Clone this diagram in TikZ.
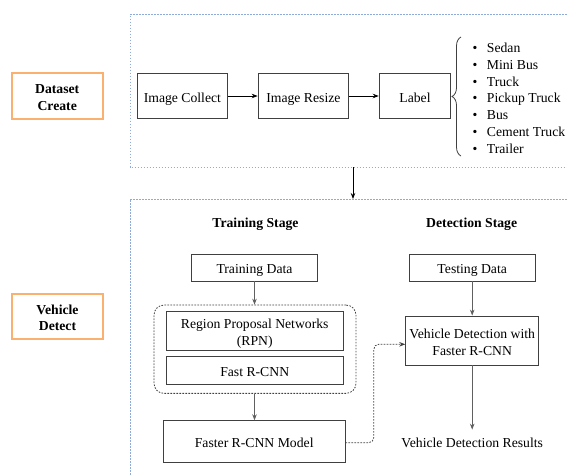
\documentclass[tikz,border=0pt]{standalone}
\usepackage{fontspec}
\setmainfont{Liberation Serif}
\usetikzlibrary{arrows.meta,decorations.pathreplacing,calc}

\definecolor{stageorange}{RGB}{250,176,110}
\definecolor{regionblue}{RGB}{143,170,220}
\definecolor{boxgray}{RGB}{64,64,64}
\definecolor{arrowgray}{RGB}{96,96,96}

\tikzset{
  stagebox/.style={draw=stageorange, line width=2.2pt, align=center,
    font=\fontsize{13.7}{16.7}\selectfont\bfseries,
    minimum width=91pt, minimum height=45.5pt, inner sep=0pt,
    text height=28.7pt, text depth=0pt},
  box/.style={draw=boxgray, line width=0.8pt, align=center, inner sep=0pt},
  oneline/.style={text height=12.4pt, text depth=0pt},
  twoline/.style={text height=29.7pt, text depth=0pt},
  region/.style={draw=regionblue, line width=0.8pt, dash pattern=on 1.6pt off 1.4pt},
  heading/.style={font=\fontsize{13.7}{16.7}\selectfont\bfseries, anchor=base},
  arr/.style={-{Stealth[length=6pt,width=4.5pt]}, line width=0.8pt},
  grayarr/.style={arr, draw=arrowgray},
  dotarr/.style={-{Stealth[length=6pt,width=4.5pt]}, line width=0.8pt, draw=boxgray,
    dash pattern=on 1.6pt off 1.4pt, rounded corners=5pt},
}

\begin{document}
\begin{tikzpicture}[x=1pt,y=-1pt,font=\fontsize{13.7}{16.7}\selectfont]
\useasboundingbox (0,0) rectangle (567,475);

% section frames (open to the right / bottom)
\draw[region] (567,14.7) -- (130,14.7) -- (130,167) -- (567,167);
\draw[region] (567,199) -- (130,199) -- (130,475);

% section labels
\node[stagebox] (ds) at (57.2,96) {Dataset\\Create};
\node[stagebox] (vd) at (57.5,316.5) {Vehicle\\Detect};

% dataset creation pipeline
\node[box, oneline, minimum width=90.7pt, minimum height=45.7pt] (ic) at (182.4,96) {Image Collect};
\node[box, oneline, minimum width=90.7pt, minimum height=45.7pt] (ir) at (303.4,96) {Image Resize};
\node[box, oneline, minimum width=71.7pt, minimum height=45.7pt] (lab) at (415,96) {Label};
\draw[arr] (ic) -- (ir);
\draw[arr] (ir) -- (lab);

% vehicle classes
\draw[boxgray, line width=0.8pt, decorate, decoration={brace, amplitude=9pt}]
  (461,156) -- (461,37);
\node[anchor=west, align=left, inner sep=0pt] (classes) at (472.5,98.3) {%
  \makebox[14.2pt][l]{\textbullet}Sedan\\
  \makebox[14.2pt][l]{\textbullet}Mini Bus\\
  \makebox[14.2pt][l]{\textbullet}Truck\\
  \makebox[14.2pt][l]{\textbullet}Pickup Truck\\
  \makebox[14.2pt][l]{\textbullet}Bus\\
  \makebox[14.2pt][l]{\textbullet}Cement Truck\\
  \makebox[14.2pt][l]{\textbullet}Trailer};

% link between the two sections
\coordinate (topout) at (353,167);
\coordinate (botin) at (353,199);
\draw[arr] (topout) -- (botin);

% stage headings
\node[heading] (trh) at (255.5,227.8) {Training Stage};
\node[heading] (deh) at (471.7,227.8) {Detection Stage};

% training stage
\node[box, oneline, minimum width=125.6pt, minimum height=27pt] (td) at (254.5,267.5) {Training Data};
\node[draw=boxgray, line width=0.8pt, dash pattern=on 1.6pt off 1.4pt, rounded corners=10pt,
  minimum width=202pt, minimum height=88.3pt, inner sep=0pt] (cont) at (255,349.2) {};
\node[box, twoline, minimum width=177.3pt, minimum height=39.7pt] (rpn) at (254.7,330.8)
  {Region Proposal Networks\\(RPN)};
\node[box, oneline, minimum width=177.3pt, minimum height=27.3pt] (frc) at (254.7,370.3) {Fast R-CNN};
\node[box, oneline, minimum width=181.7pt, minimum height=42pt] (frm) at (254.2,441.7) {Faster R-CNN Model};
\draw[grayarr] (td) -- (td |- cont.north);
\draw[grayarr] (cont.south -| td) -- (frm.north -| td);

% detection stage
\node[box, oneline, minimum width=125.7pt, minimum height=27pt] (tsd) at (472.2,267.5) {Testing Data};
\node[box, twoline, minimum width=133pt, minimum height=49pt] (vdf) at (472.2,340.5)
  {Vehicle Detection with\\Faster R-CNN};
\node[inner xsep=2pt, inner ysep=8.6pt] (res) at (472.2,443.3) {Vehicle Detection Results};
\draw[grayarr] (tsd) -- (vdf);
\draw[grayarr] (vdf) -- (res);

% trained model feeds detection
\draw[dotarr] ([yshift=-1pt]frm.east) -- ++(28.3,0) |- ([yshift=-3.8pt]vdf.west);
\end{tikzpicture}
\end{document}
